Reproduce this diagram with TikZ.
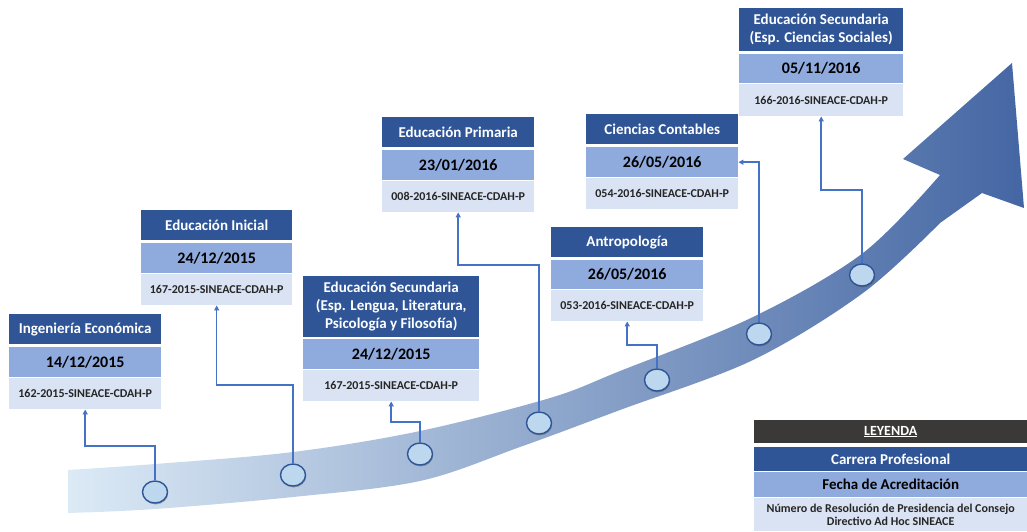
\documentclass[tikz,border=0pt]{standalone}
\usepackage{fontspec}
\setmainfont{Carlito}
\usetikzlibrary{shapes.geometric,arrows.meta,shadows}
\definecolor{tcol}{HTML}{2F5597}
\definecolor{dcol}{HTML}{8FAADC}
\definecolor{kcol}{HTML}{DAE3F3}
\definecolor{ccol}{HTML}{4472C4}
\definecolor{lcol}{HTML}{3B3838}
\definecolor{dotfill}{HTML}{BDD7EE}
\definecolor{bandL}{HTML}{DCEAF6}
\definecolor{bandM}{HTML}{A6C3E2}
\definecolor{bandR}{HTML}{4466A3}
\tikzset{
  bar/.style={anchor=north west, inner sep=0pt, align=center, rectangle},
  tbar/.style={bar, fill=tcol, text=white, font=\bfseries\fontsize{15}{18}\selectfont},
  dbar/.style={bar, fill=dcol, text=black, font=\bfseries\fontsize{16}{19}\selectfont},
  kbar/.style={bar, fill=kcol, text=black!85, font=\bfseries\fontsize{12}{14}\selectfont},
  dot/.style={ellipse, draw=tcol, line width=1.4pt, fill=dotfill, minimum width=25pt, minimum height=22pt, inner sep=0pt,
     drop shadow={shadow xshift=0.6pt, shadow yshift=-1.4pt, opacity=0.45, fill=black!70}},
  conn/.style={draw=ccol, line width=1.5pt, -{Triangle[length=5pt,width=5pt]}}
}
\begin{document}
\begin{tikzpicture}[x=1pt,y=-1pt]
\useasboundingbox (0,0) rectangle (1027,531);
% band arrow
\shade[left color=bandL, middle color=bandM, right color=bandR]
  plot[smooth, tension=0.55] coordinates {(68,470) (155,464) (293,452) (420,431) (550,398) (620,371) (753,317) (863,253) (940,175)}
  -- (903,159) -- (1012,63) -- (1024,208) -- (982,193)
  -- plot[smooth, tension=0.55] coordinates {(940,223) (863,293) (753,360) (620,410) (520,447) (420,481) (293,497) (155,509) (68,513)}
  -- cycle;
% box 1
\node[tbar, minimum width=152pt, minimum height=30pt] (t1) at (9,314) {Ingeniería Económica};
\node[dbar, minimum width=152pt, minimum height=30pt] (d1) at (9,347) {14/12/2015};
\node[kbar, minimum width=152pt, minimum height=31pt] (k1) at (9,378) {162-2015-SINEACE-CDAH-P};
% box 2
\node[tbar, minimum width=151pt, minimum height=30pt] (t2) at (141,210) {Educación Inicial};
\node[dbar, minimum width=151pt, minimum height=30pt] (d2) at (141,243) {24/12/2015};
\node[kbar, minimum width=151pt, minimum height=31pt] (k2) at (141,274) {167-2015-SINEACE-CDAH-P};
% box 3
\node[tbar, minimum width=176pt, minimum height=61pt] (t3) at (303,276) {Educación Secundaria\\(Esp. Lengua, Literatura,\\Psicología y Filosofía)};
\node[dbar, minimum width=176pt, minimum height=30pt] (d3) at (303,339) {24/12/2015};
\node[kbar, minimum width=176pt, minimum height=31pt] (k3) at (303,370) {167-2015-SINEACE-CDAH-P};
% box 4
\node[tbar, minimum width=152pt, minimum height=30pt] (t4) at (382,117) {Educación Primaria};
\node[dbar, minimum width=152pt, minimum height=30pt] (d4) at (382,150) {23/01/2016};
\node[kbar, minimum width=152pt, minimum height=31pt] (k4) at (382,181) {008-2016-SINEACE-CDAH-P};
% box 5
\node[tbar, minimum width=152pt, minimum height=30pt] (t5) at (551,227) {Antropología};
\node[dbar, minimum width=152pt, minimum height=29pt] (d5) at (551,260) {26/05/2016};
\node[kbar, minimum width=152pt, minimum height=31pt] (k5) at (551,290) {053-2016-SINEACE-CDAH-P};
% box 6
\node[tbar, minimum width=152pt, minimum height=30pt] (t6) at (586,114) {Ciencias Contables};
\node[dbar, minimum width=152pt, minimum height=30pt] (d6) at (586,147) {26/05/2016};
\node[kbar, minimum width=152pt, minimum height=31pt] (k6) at (586,178) {054-2016-SINEACE-CDAH-P};
% box 7
\node[tbar, minimum width=164pt, minimum height=43pt] (t7) at (739,8) {Educación Secundaria\\(Esp. Ciencias Sociales)};
\node[dbar, minimum width=164pt, minimum height=29pt] (d7) at (739,54) {05/11/2016};
\node[kbar, minimum width=164pt, minimum height=32pt] (k7) at (739,84) {166-2016-SINEACE-CDAH-P};
% dots
\node[dot] (c1) at (155,492) {};
\node[dot] (c2) at (293,475) {};
\node[dot] (c3) at (420,454) {};
\node[dot] (c4) at (539,423) {};
\node[dot] (c5) at (657,380) {};
\node[dot] (c6) at (759,334) {};
\node[dot] (c7) at (862,275) {};
% connectors
\draw[conn] (c1.north) -- (c1.north |- 0,446) -| (k1.south);
\draw[conn] (c2.north) -- (c2.north |- 0,385) -| (k2.south);
\draw[conn] (c3.north) -- (c3.north |- 0,422) -| (k3.south);
\draw[conn] (c4.north) -- (c4.north |- 0,265) -| (k4.south);
\draw[conn] (c5.north) -- (c5.north |- 0,345) -| (k5.south);
\draw[conn] (c6.north) |- (d6.east);
\draw[conn] (c7.north) -- (c7.north |- 0,190) -| (k7.south);
% legend
\node[bar, fill=lcol, text=white, font=\bfseries\fontsize{14}{17}\selectfont, minimum width=273pt, minimum height=23pt] (l0) at (754,420) {\underline{LEYENDA}};
\node[tbar, minimum width=273pt, minimum height=24pt] (l1) at (754,447) {Carrera Profesional};
\node[dbar, font=\bfseries\fontsize{15}{18}\selectfont, minimum width=273pt, minimum height=25pt] (l2) at (754,472) {Fecha de Acreditación};
\node[kbar, font=\bfseries\fontsize{12}{13}\selectfont, minimum width=273pt, minimum height=33pt] (l3) at (754,498) {Número de Resolución de Presidencia del Consejo\\Directivo Ad Hoc SINEACE};
\end{tikzpicture}
\end{document}
